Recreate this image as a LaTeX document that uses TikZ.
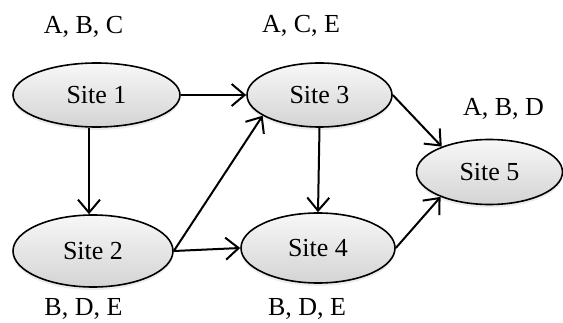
\documentclass[tikz,border=0pt]{standalone}
\usepackage{fontspec}
\setmainfont{Liberation Serif}
\usetikzlibrary{positioning,arrows.meta,shadows,shapes.geometric}
\tikzset{%
  site/.style={ellipse,draw,line width=1.6pt,inner sep=0pt,
    top color=gray!6,bottom color=gray!34,
    drop shadow={shadow xshift=0pt,shadow yshift=-3pt,opacity=.15}},
  set/.style={inner sep=0pt},
  link/.style={line width=2pt,-{Straight Barb[length=13pt,width=22pt,line width=2pt]}}
}

\begin{document}
\begin{tikzpicture}[x=1pt,y=1pt,font=\fontsize{26}{30}\selectfont]
  \useasboundingbox (0,0) rectangle (563,322);

  \node[site,minimum width=167pt,minimum height=64pt] (s1) at (96.5,227) {Site 1};
  \node[site,minimum width=160pt,minimum height=72pt] (s2) at (93,71) {Site 2};
  \node[site,minimum width=145pt,minimum height=64pt] (s3) at (319.5,227) {Site 3};
  \node[site,minimum width=154pt,minimum height=70pt] (s4) at (318,74) {Site 4};
  \node[site,minimum width=146pt,minimum height=65pt] (s5) at (489.5,150) {Site 5};

  \node[set,above=24pt of s1,xshift=-13pt] {A, B, C};
  \node[set,above=26pt of s3,xshift=-18.5pt] {A, C, E};
  \node[set,above=19pt of s5,xshift=14pt] {A, B, D};
  \node[set,below=10pt of s2,xshift=-9.5pt] {B, D, E};
  \node[set,below=14pt of s4,xshift=-11pt] {B, D, E};

  \draw[link] (s1) -- (s3);
  \draw[link] ([xshift=-4pt]s2.north |- s1.south) -- ([xshift=-4pt]s2.north);
  \draw[link] (s2.east) -- (s3.200);
  \draw[link] (s2.east) -- (s4.west);
  \draw[link] (s3.south) -- (s4.north);
  \draw[link] (s3.east) -- (s5.152);
  \draw[link] (s4.east) -- (s5.207);
\end{tikzpicture}
\end{document}
